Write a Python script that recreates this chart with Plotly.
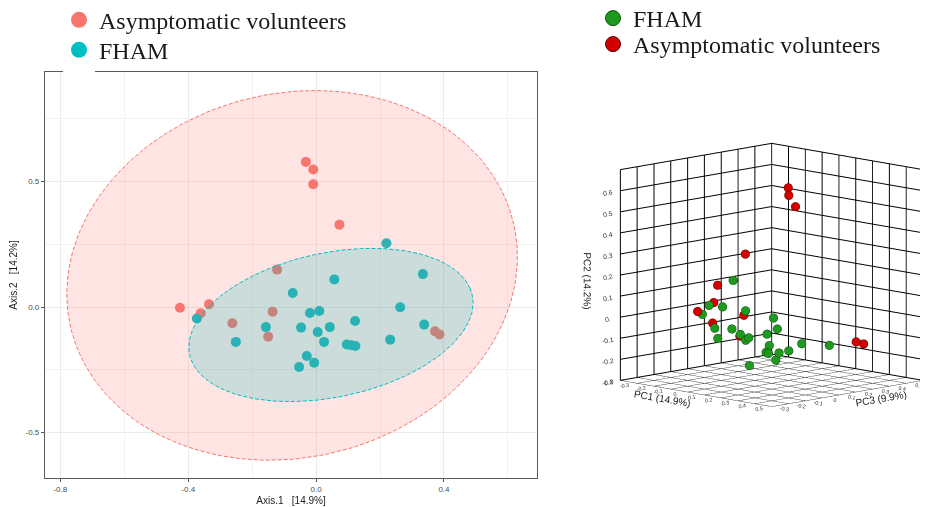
import numpy as np
import plotly.graph_objects as go

# ---------------- data ----------------
group_names = ["Asymptomatic volunteers", "FHAM"]

# Asymptomatic volunteers: Axis.1 (PC1), Axis.2 (PC2), PC3
asym_axis1 = [-0.032, -0.009, -0.009, 0.073, -0.426, -0.335, -0.361, -0.122, -0.136, -0.262, -0.150, 0.372, 0.386]
asym_axis2 = [0.578, 0.548, 0.489, 0.328, -0.003, 0.011, -0.025, 0.149, -0.019, -0.065, -0.118, -0.097, -0.109]
asym_pc3 = [0.33, 0.31, 0.35, -0.03, 0.17, 0.19, 0.12, 0.00, 0.17, 0.11, 0.16, 0.33, 0.36]

# FHAM: Axis.1 (PC1), Axis.2 (PC2), PC3
fham_axis1 = [0.220, -0.373, -0.251, -0.157, -0.073, 0.057, -0.019, 0.010, -0.047, 0.005, 0.043, 0.122,
              0.025, 0.096, 0.110, 0.123, -0.029, -0.006, -0.053, 0.232, 0.263, 0.334, 0.338]
fham_axis2 = [0.254, -0.046, -0.139, -0.080, 0.056, 0.110, -0.024, -0.016, -0.082, -0.100, -0.080, -0.056,
              -0.139, -0.149, -0.152, -0.155, -0.195, -0.222, -0.239, -0.130, -0.001, 0.131, -0.070]
fham_pc3 = [-0.25, 0.16, 0.13, 0.12, -0.02, -0.23, -0.12, 0.20, 0.06, 0.04, 0.02, 0.05,
            0.16, 0.07, 0.07, 0.12, 0.33, 0.23, 0.12, 0.31, -0.03, -0.29, 0.04]

# 95% ellipses: centre x, centre y, semi-major, semi-minor, angle (deg), in data units
asym_ellipse = dict(cx=-0.075, cy=0.126, a=0.759, b=0.680, angle=56.7)
fham_ellipse = dict(cx=0.0465, cy=-0.0715, a=0.459, b=0.283, angle=18.4)

# axis ticks
axis1_ticks = [-0.8, -0.4, 0.0, 0.4]
axis1_text = ["-0.8", "-0.4", "0.0", "0.4"]
axis1_minor = [-0.6, -0.2, 0.2, 0.6]
axis2_ticks = [-0.5, 0.0, 0.5]
axis2_text = ["-0.5", "0.0", "0.5"]
axis2_minor = [-0.25, 0.25, 0.75]

pc1_ticks = [-0.4, -0.3, -0.2, -0.1, 0.0, 0.1, 0.2, 0.3, 0.4, 0.5]
pc1_text = ["-0.4", "-0.3", "-0.2", "-0.1", "0", "0.1", "0.2", "0.3", "0.4", "0.5"]
pc3_ticks = [-0.3, -0.2, -0.1, 0.0, 0.1, 0.2, 0.3, 0.4, 0.5, 0.6]
pc3_text = ["-0.3", "-0.2", "-0.1", "0", "0.1", "0.2", "0.3", "0.4", "0.5", "0.6"]
pc2_ticks = [-0.3, -0.2, -0.1, 0.0, 0.1, 0.2, 0.3, 0.4, 0.5, 0.6, 0.7]
pc2_text = ["-0.3", "-0.2", "-0.1", "0.", "0.1", "0.2", "0.3", "0.4", "0.5", "0.6", ""]

RED = "#F8766D"
TEAL = "#00BFC4"
GREEN3D = "#1E9B1E"
RED3D = "#D40000"


def ellipse_path(e, n=241):
    t = np.linspace(0, 2 * np.pi, n)
    th = np.radians(e["angle"])
    x = e["cx"] + e["a"] * np.cos(th) * np.cos(t) - e["b"] * np.sin(th) * np.sin(t)
    y = e["cy"] + e["a"] * np.sin(th) * np.cos(t) + e["b"] * np.cos(th) * np.sin(t)
    return x, y


fig = go.Figure()

# ---- left: PCoA scatter ----
fig.add_trace(go.Scatter(x=asym_axis1, y=asym_axis2, mode="markers", name=group_names[0],
                         marker=dict(size=10, color=RED), showlegend=False))
fig.add_trace(go.Scatter(x=fham_axis1, y=fham_axis2, mode="markers", name=group_names[1],
                         marker=dict(size=10, color=TEAL), showlegend=False))
ex, ey = ellipse_path(asym_ellipse)
fig.add_trace(go.Scatter(x=ex, y=ey, mode="lines", fill="toself", fillcolor="rgba(248,118,109,0.2)",
                         line=dict(color=RED, width=1, dash="4px,2px"), showlegend=False, hoverinfo="skip"))
ex, ey = ellipse_path(fham_ellipse)
fig.add_trace(go.Scatter(x=ex, y=ey, mode="lines", fill="toself", fillcolor="rgba(0,191,196,0.2)",
                         line=dict(color=TEAL, width=1, dash="4px,2px"), showlegend=False, hoverinfo="skip"))

# ---- right: 3D PCA ----
fig.add_trace(go.Scatter3d(x=fham_axis1, y=fham_pc3, z=fham_axis2, mode="markers", name=group_names[1],
                           marker=dict(size=5, color=GREEN3D, line=dict(color="#0B4F0B", width=1)),
                           showlegend=False))
fig.add_trace(go.Scatter3d(x=asym_axis1, y=asym_pc3, z=asym_axis2, mode="markers", name=group_names[0],
                           marker=dict(size=5, color=RED3D, line=dict(color="#5A0000", width=1)),
                           showlegend=False))

# ---- legend entries (one legend per row for exact placement) ----
fig.add_trace(go.Scatter(x=[None], y=[None], mode="markers", name=group_names[0],
                         marker=dict(size=20, color=RED), legend="legend"))
fig.add_trace(go.Scatter(x=[None], y=[None], mode="markers", name=group_names[1],
                         marker=dict(size=20, color=TEAL), legend="legend2"))
fig.add_trace(go.Scatter(x=[None], y=[None], mode="markers", name=group_names[1],
                         marker=dict(size=15, color=GREEN3D, line=dict(color="#0B4F0B", width=1)), legend="legend3"))
fig.add_trace(go.Scatter(x=[None], y=[None], mode="markers", name=group_names[0],
                         marker=dict(size=15, color=RED3D, line=dict(color="#5A0000", width=1)), legend="legend4"))

# page body has an 8px margin: figure is 8px smaller and all pixel positions are reference - 8
W, H = 920, 499
tickfont = dict(family="Liberation Sans, Arial, sans-serif", size=8, color="#4D4D4D")
titlefont = dict(family="Liberation Sans, Arial, sans-serif", size=10, color="#222")
legfont = dict(family="Liberation Serif, Times New Roman, serif", size=24, color="#1A1A1A")


def leg(xpx, ypx_center):
    return dict(x=xpx / W, y=1 - (ypx_center - 23) / H, xanchor="left", yanchor="top",
                bgcolor="rgba(0,0,0,0)", font=legfont, itemsizing="trace")


fig.update_layout(
    width=W, height=H,
    margin=dict(l=0, r=0, t=0, b=0, autoexpand=False),
    paper_bgcolor="white", plot_bgcolor="white",
    xaxis=dict(domain=[37 / W, 529 / W], range=[-0.848, 0.691], tickvals=axis1_ticks, ticktext=axis1_text,
               ticks="outside", ticklen=3, tickcolor="#555", tickfont=tickfont,
               showgrid=True, gridcolor="#EBEBEB", gridwidth=1, zeroline=False,
               minor=dict(tickvals=axis1_minor, showgrid=True, gridcolor="#F2F2F2", gridwidth=0.6),
               showline=True, mirror=True, linecolor="#5A5A5A", linewidth=1.2,
               title=dict(text="Axis.1\u00a0\u00a0\u00a0[14.9%]", font=titlefont, standoff=4)),
    yaxis=dict(domain=[1 - 470 / H, 1 - 64 / H], range=[-0.681, 0.936], tickvals=axis2_ticks, ticktext=axis2_text,
               ticks="outside", ticklen=3, tickcolor="#555", tickfont=tickfont,
               showgrid=True, gridcolor="#EBEBEB", gridwidth=1, zeroline=False,
               minor=dict(tickvals=axis2_minor, showgrid=True, gridcolor="#F2F2F2", gridwidth=0.6),
               showline=True, mirror=True, linecolor="#5A5A5A", linewidth=1.2,
               title=dict(text="Axis.2\u00a0\u00a0\u00a0[14.2%]", font=titlefont, standoff=6)),
    legend=leg(51, 12.7),
    legend2=leg(51, 42.7),
    legend3=leg(585, 11),
    legend4=leg(585, 37),
    shapes=[dict(type="rect", xref="paper", yref="paper", x0=55 / W, x1=87 / W, y0=1 - 67 / H, y1=1 - 61 / H,
                 fillcolor="white", line=dict(width=0), layer="above")],
)

ax3d = dict(gridcolor="#000000", gridwidth=2, showbackground=False, zeroline=False, showspikes=False,
            showline=False, ticks="", tickfont=dict(family="Liberation Sans, Arial, sans-serif", size=8, color="#333"))
D = 2.736
elev = np.radians(10.0)
s = -0.075
fig.update_layout(
    scene=dict(
        domain=dict(x=[562 / W, 1.0], y=[1 - 480.5 / H, 1 - 52.5 / H]),
        xaxis=dict(ax3d, range=[-0.4, 0.5], tickvals=pc1_ticks, ticktext=pc1_text,
                   title=dict(text="PC1 (14.9%)", font=titlefont)),
        yaxis=dict(ax3d, range=[-0.3, 0.6], tickvals=pc3_ticks, ticktext=pc3_text,
                   title=dict(text="PC3 (9.9%)", font=titlefont)),
        zaxis=dict(ax3d, range=[-0.3, 0.7], tickvals=pc2_ticks, ticktext=pc2_text,
                   tickfont=dict(family="Liberation Sans, Arial, sans-serif", size=9, color="#333"),
                   title=dict(text="PC2 (14.2%)", font=titlefont)),
        aspectmode="manual", aspectratio=dict(x=1, y=1, z=1),
        camera=dict(eye=dict(x=D * np.cos(elev) / np.sqrt(2) + s, y=-D * np.cos(elev) / np.sqrt(2) + s,
                             z=D * np.sin(elev)),
                    center=dict(x=s, y=s, z=0), up=dict(x=0, y=0, z=1),
                    projection=dict(type="orthographic")),
        bgcolor="white",
    )
)

fig.write_html("out.html")
